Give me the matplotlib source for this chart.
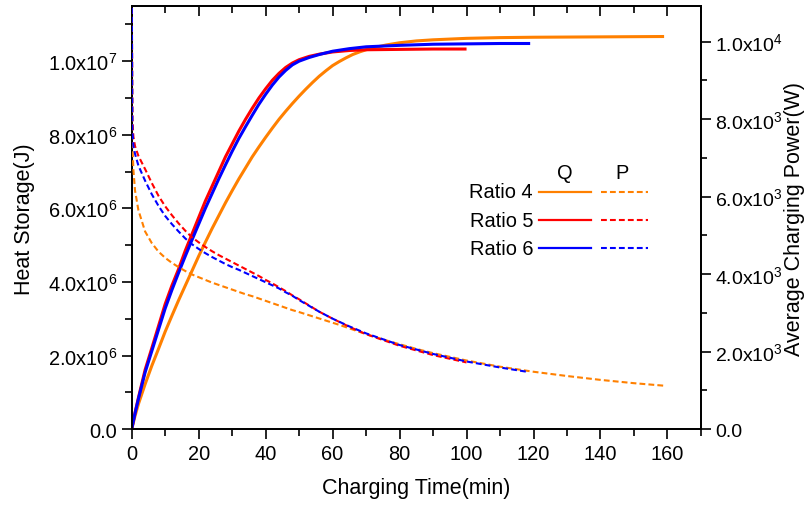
import matplotlib
matplotlib.use("Agg")
import matplotlib.pyplot as plt
from matplotlib.ticker import MultipleLocator, FuncFormatter
import numpy as np

plt.rcParams['font.family'] = ['Liberation Sans', 'DejaVu Sans']
plt.rcParams['mathtext.fontset'] = 'custom'
plt.rcParams['mathtext.rm'] = 'Liberation Sans'
plt.rcParams['mathtext.it'] = 'Liberation Sans'

# ---- heat storage Q (x1e6 J), per ratio ----
t_q4 = [0, 1, 2, 4, 6, 8, 10, 12, 14, 16, 18, 20, 22, 24, 26, 28, 30, 32, 34, 36, 38, 40, 42, 44, 46,
        48, 50, 52, 54, 56, 58, 60, 62, 64, 66, 68, 70, 73, 76, 80, 85, 90, 100, 110, 120, 140, 159]
q4 = [0, 0.36, 0.68, 1.22, 1.72, 2.18, 2.65, 3.08, 3.50, 3.90, 4.30, 4.70, 5.08, 5.45, 5.80, 6.15,
      6.48, 6.80, 7.10, 7.40, 7.67, 7.93, 8.18, 8.42, 8.64, 8.85, 9.05, 9.24, 9.42, 9.59, 9.74, 9.88,
      9.99, 10.09, 10.18, 10.25, 10.31, 10.38, 10.44, 10.50, 10.55, 10.58, 10.62, 10.64, 10.65,
      10.66, 10.67]

t_q5 = [0, 1, 2, 4, 6, 8, 10, 12, 14, 16, 18, 20, 22, 24, 26, 28, 30, 32, 34, 36, 38, 40, 42, 44, 46,
        48, 50, 53, 56, 60, 65, 70, 80, 90, 100]
q5 = [0, 0.45, 0.85, 1.61, 2.20, 2.80, 3.40, 3.90, 4.35, 4.85, 5.30, 5.75, 6.20, 6.60, 7.00, 7.40,
      7.75, 8.10, 8.42, 8.72, 9.00, 9.25, 9.48, 9.67, 9.83, 9.95, 10.04, 10.13, 10.19, 10.25, 10.29,
      10.31, 10.32, 10.33, 10.33]

t_q6 = [0, 1, 2, 4, 6, 8, 10, 12, 14, 16, 18, 20, 22, 24, 26, 28, 30, 32, 34, 36, 38, 40, 42, 44, 46,
        48, 50, 53, 56, 60, 65, 70, 80, 90, 100, 110, 119]
q6 = [0, 0.43, 0.82, 1.54, 2.12, 2.70, 3.28, 3.78, 4.25, 4.70, 5.14, 5.57, 6.00, 6.40, 6.80, 7.18,
      7.55, 7.90, 8.22, 8.53, 8.83, 9.10, 9.35, 9.57, 9.75, 9.90, 10.00, 10.10, 10.18, 10.27, 10.34,
      10.39, 10.43, 10.46, 10.47, 10.48, 10.48]

# ---- average charging power P (x1e3 W), per ratio ----
t_p4 = [0.01, 0.2, 0.5, 1, 2, 4, 6, 8, 10, 12, 14, 16, 18, 20, 22, 24, 26, 28, 30, 32, 34, 36, 38,
        40, 42, 44, 46, 48, 50, 54, 58, 62, 66, 70, 76, 80, 85, 90, 100, 110, 120, 130, 140, 150, 159]
p4 = [11.5, 7.40, 6.70, 6.15, 5.65, 5.10, 4.80, 4.58, 4.42, 4.29, 4.18, 4.08, 3.99, 3.92, 3.85,
      3.78, 3.72, 3.66, 3.60, 3.54, 3.48, 3.43, 3.37, 3.31, 3.25, 3.19, 3.13, 3.07, 3.02, 2.91,
      2.80, 2.69, 2.57, 2.45, 2.29, 2.19, 2.07, 1.96, 1.77, 1.61, 1.48, 1.37, 1.27, 1.185, 1.12]

t_p5 = [0.01, 0.2, 0.5, 1, 2, 4, 6, 8, 10, 12, 14, 16, 18, 20, 22, 24, 26, 28, 30, 32, 34, 36, 38,
        40, 42, 44, 46, 48, 50, 53, 56, 60, 65, 70, 80, 90, 100]
p5 = [11.5, 8.00, 7.55, 7.30, 7.05, 6.71, 6.35, 6.02, 5.75, 5.52, 5.31, 5.12, 4.95, 4.82, 4.70,
      4.59, 4.49, 4.40, 4.31, 4.22, 4.13, 4.04, 3.95, 3.85, 3.76, 3.66, 3.56, 3.45, 3.35, 3.19,
      3.03, 2.85, 2.64, 2.45, 2.15, 1.91, 1.72]

t_p6 = [0.01, 0.2, 0.5, 1, 2, 4, 6, 8, 10, 12, 14, 16, 18, 20, 22, 24, 26, 28, 30, 32, 34, 36, 38,
        40, 42, 44, 46, 48, 50, 53, 56, 60, 65, 70, 80, 90, 100, 110, 118]
p6 = [11.5, 7.70, 7.30, 7.10, 6.80, 6.41, 6.06, 5.76, 5.50, 5.29, 5.10, 4.92, 4.77, 4.65, 4.54,
      4.44, 4.35, 4.26, 4.18, 4.11, 4.03, 3.95, 3.87, 3.79, 3.71, 3.63, 3.53, 3.44, 3.33, 3.18,
      3.03, 2.85, 2.65, 2.47, 2.17, 1.94, 1.745, 1.59, 1.48]

ratio_labels = ["Ratio 4", "Ratio 5", "Ratio 6"]
colors = ["#FF8000", "#FF0000", "#0000FF"]

fig = plt.figure(figsize=(8.08, 5.06), dpi=100)
ax = fig.add_axes([0.163, 0.150, 0.7045, 0.8355])
ax2 = ax.twinx()

dash = (0, (2.8, 1.5))
for tq, q, c in zip([t_q4, t_q5, t_q6], [q4, q5, q6], colors):
    ax.plot(tq, np.asarray(q) * 1e6, color=c, lw=2.2, solid_capstyle='butt', zorder=3)
for tp, p, c in zip([t_p4, t_p5, t_p6], [p4, p5, p6], colors):
    ax2.plot(tp, np.asarray(p) * 1e3, color=c, lw=1.5, linestyle=dash, zorder=3)

ax.set_xlim(0, 170)
ax.set_ylim(0, 1.149e7)
ax2.set_ylim(0, 10910)


def sci_fmt(v, pos):
    if v == 0:
        return "0.0"
    e = int(np.floor(np.log10(abs(v)) + 1e-9))
    m = v / 10 ** e
    return r"$\mathregular{%.1fx10^{%d}}$" % (m, e)


ax.xaxis.set_major_locator(MultipleLocator(20))
ax.xaxis.set_minor_locator(MultipleLocator(10))
ax.yaxis.set_major_locator(MultipleLocator(2e6))
ax.yaxis.set_minor_locator(MultipleLocator(1e6))
ax.yaxis.set_major_formatter(FuncFormatter(sci_fmt))
ax2.yaxis.set_major_locator(MultipleLocator(2000))
ax2.yaxis.set_minor_locator(MultipleLocator(1000))
ax2.yaxis.set_major_formatter(FuncFormatter(sci_fmt))

ax.tick_params(axis='x', which='both', direction='out', top=True, labelsize=14.4, pad=4, width=1.2)
ax.tick_params(axis='x', which='major', length=7)
ax.tick_params(axis='x', which='minor', length=5)
ax.tick_params(axis='y', which='both', direction='out', labelsize=14.4, pad=3, width=1.2)
ax.tick_params(axis='y', which='major', length=7.5)
ax.tick_params(axis='y', which='minor', length=5)
ax2.tick_params(axis='y', which='both', direction='out', labelsize=14, pad=3, width=1.2)
ax2.tick_params(axis='y', which='major', length=7)
ax2.tick_params(axis='y', which='minor', length=4.5)
# top ticks point into the plot
for tick in ax.xaxis.get_major_ticks() + ax.xaxis.get_minor_ticks():
    tick.tick2line.set_marker(matplotlib.lines.TICKDOWN)

for a in (ax, ax2):
    for s in a.spines.values():
        s.set_linewidth(1.3)

ax.set_xlabel("Charging Time(min)", fontsize=15.5, labelpad=10)
ax.set_ylabel("Heat Storage(J)", fontsize=15.5, labelpad=9)
ax2.set_ylabel("Average Charging Power(W)", fontsize=15.5, labelpad=1)

# legend: Q (solid) and P (dashed) columns
ax2.text(0.761, 0.608, "Q", transform=ax2.transAxes, ha='center', va='center', fontsize=14.4)
ax2.text(0.861, 0.608, "P", transform=ax2.transAxes, ha='center', va='center', fontsize=14.4)
row_y = [0.561, 0.494, 0.428]
for lab, c, yy in zip(ratio_labels, colors, row_y):
    ax2.text(0.705, yy, lab, transform=ax2.transAxes, ha='right', va='center', fontsize=14.4)
    ax2.plot([0.7155, 0.8068], [yy, yy], transform=ax2.transAxes, color=c, lw=1.6)
    ax2.plot([0.8243, 0.9069], [yy, yy], transform=ax2.transAxes, color=c, lw=1.5, linestyle=dash)

fig.savefig("out.png", dpi=100)
